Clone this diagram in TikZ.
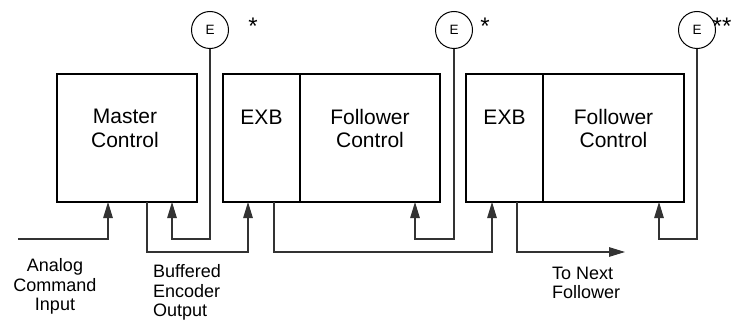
\documentclass[tikz,border=0pt]{standalone}
\usepackage{fontspec}
\setmainfont{Liberation Sans}
\usetikzlibrary{arrows.meta}

\begin{document}
\begin{tikzpicture}[x=1pt, y=-1pt,
    box/.style={draw, line width=1.6pt},
    enc/.style={circle, draw, line width=1pt, minimum size=37pt, inner sep=0pt, font=\fontsize{13.5}{14}\selectfont},
    sig/.style={draw=black!80, line width=1.1pt},
    sigarrow/.style={sig, -{Triangle[length=16pt,width=9.5pt]}},
    lbl/.style={font=\fontsize{18}{19.5}\selectfont, inner sep=0pt},
    boxtext/.style={font=\fontsize{21}{23.3}\selectfont, align=center, inner sep=0pt},
    star/.style={font=\fontsize{24}{24}\selectfont, inner sep=0pt}]
    \useasboundingbox (0,0) rectangle (733,321);

    % control boxes
    \draw[box] (57,74) rectangle (197,202);
    \draw[box] (223,74) rectangle (440,202);
    \draw[box] (300,74) -- (300,202);
    \draw[box] (466,74) rectangle (684,202);
    \draw[box] (543,74) -- (543,202);

    % box texts
    \node[boxtext] (master) at (125,128.5) {Master\\Control};
    \node[boxtext] (exb1) at (261.5,117) {EXB};
    \node[boxtext] (fol1) at (370,128.5) {Follower\\Control};
    \node[boxtext] (exb2) at (504.5,117) {EXB};
    \node[boxtext] (fol2) at (613.5,128.5) {Follower\\Control};

    % encoders
    \node[enc] (e1) at (210,30) {E};
    \node[enc] (e2) at (454,30) {E};
    \node[enc] (e3) at (697,30) {E};
    \node[star] (s1) at (253,26) {*};
    \node[star] (s2) at (485,26) {*};
    \node[star] (s3) at (722,26) {**};

    % connection points
    \coordinate (ain)  at (18,239);
    \coordinate (m1)   at (108,202);
    \coordinate (mout) at (147,202);
    \coordinate (m2)   at (172,202);
    \coordinate (x1in) at (248,202);
    \coordinate (x1out) at (274,202);
    \coordinate (f1in) at (415,202);
    \coordinate (x2in) at (492,202);
    \coordinate (x2out) at (517,202);
    \coordinate (next) at (625,252);
    \coordinate (f2in) at (659,202);

    % signals
    \draw[sigarrow] (ain) -| (m1);
    \draw[sigarrow] (e1.south) |- (172,239) -- (m2);
    \draw[sigarrow] (mout) |- (248,252) -- (x1in);
    \draw[sigarrow] (e2.south) |- (415,239) -- (f1in);
    \draw[sigarrow] (x1out) |- (492,252) -- (x2in);
    \draw[sigarrow] (x2out) |- (next);
    \draw[sigarrow] (e3.south) |- (659,239) -- (f2in);

    % labels
    \node[lbl, align=center] (analog) at (55,286.5) {Analog\\Command\\Input};
    \node[lbl, align=left, anchor=west] (buf) at (153,292.5) {Buffered\\Encoder\\Output};
    \node[lbl, align=left, anchor=west] (tonext) at (552,283) {To Next\\Follower};
\end{tikzpicture}
\end{document}
